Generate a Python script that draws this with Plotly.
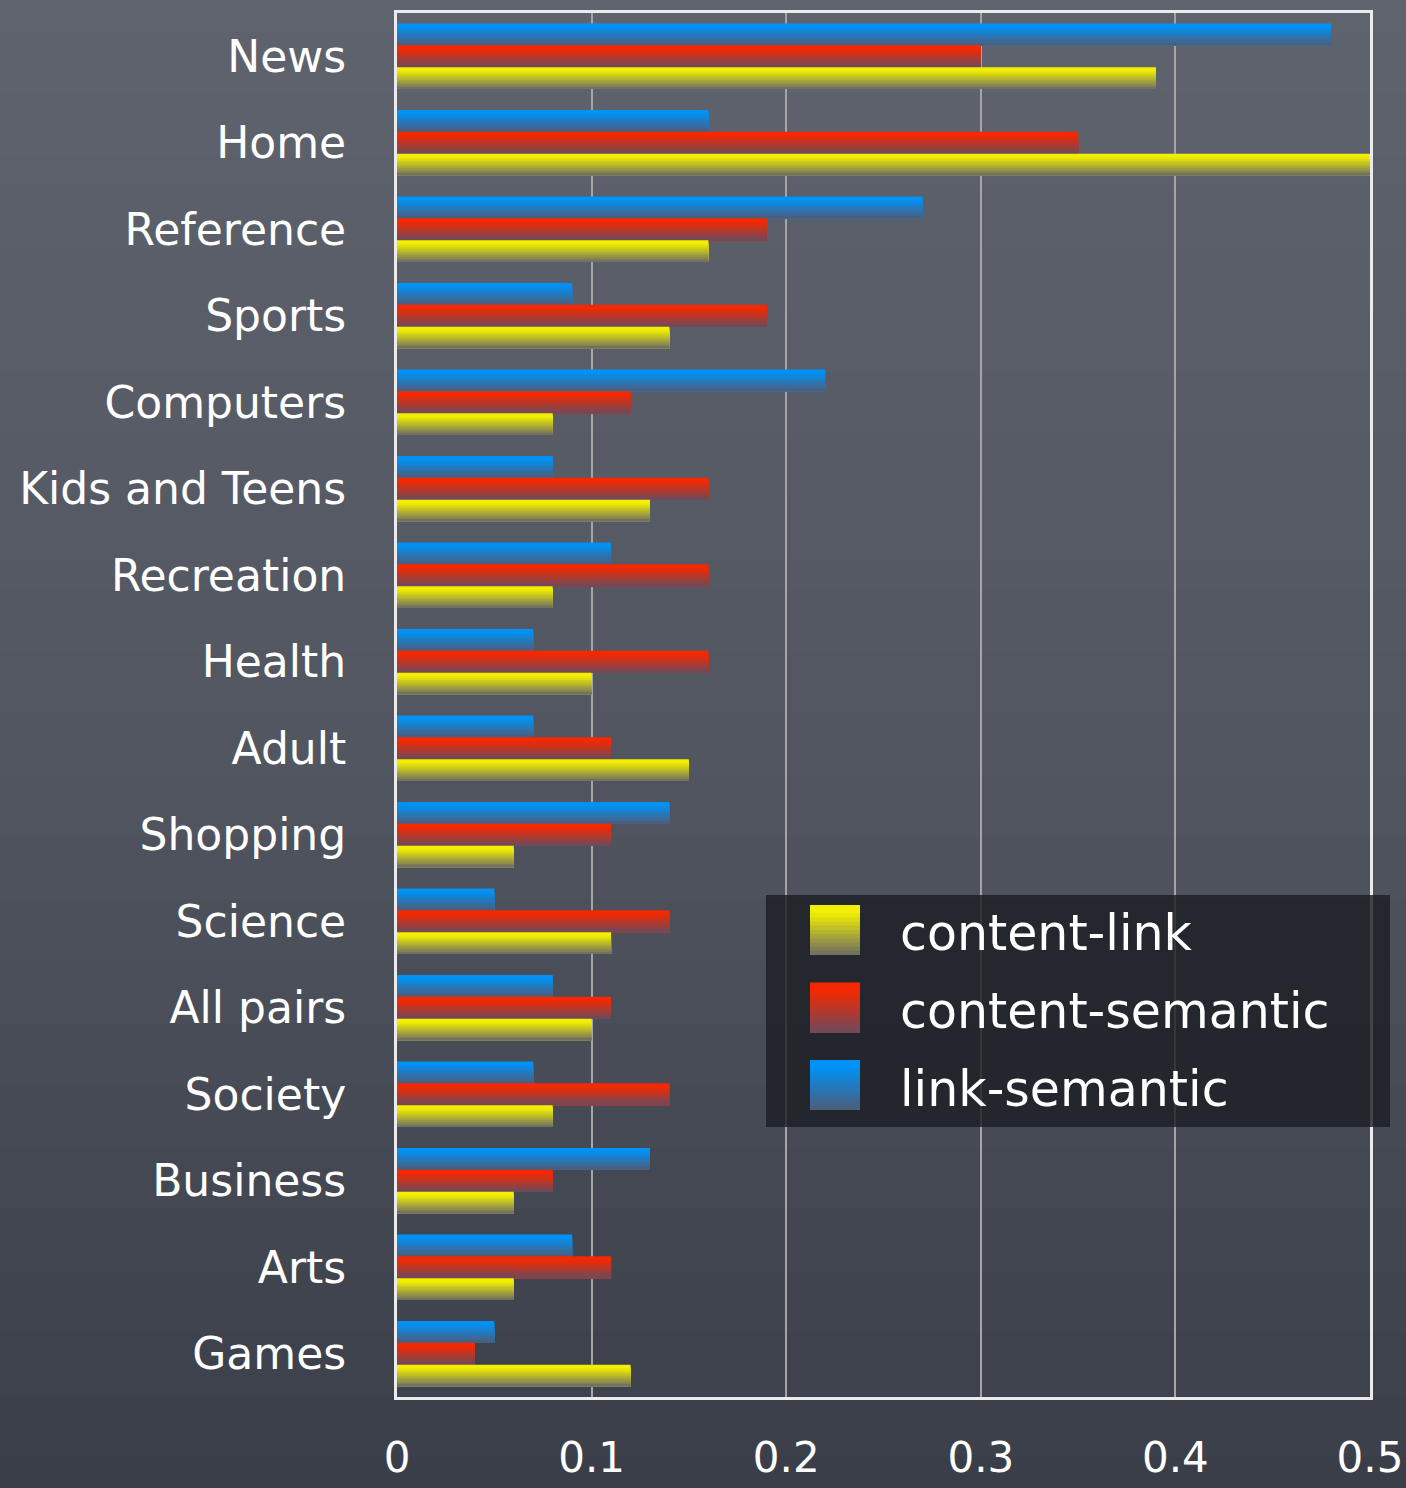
import plotly.graph_objects as go

# Category order, top to bottom
categories = ["News", "Home", "Reference", "Sports", "Computers", "Kids and Teens",
              "Recreation", "Health", "Adult", "Shopping", "Science", "All pairs",
              "Society", "Business", "Arts", "Games"]

content_link = [0.39, 0.50, 0.16, 0.14, 0.08, 0.13, 0.08, 0.10, 0.15, 0.06,
                0.11, 0.10, 0.08, 0.06, 0.06, 0.12]
content_semantic = [0.30, 0.35, 0.19, 0.19, 0.12, 0.16, 0.16, 0.16, 0.11, 0.11,
                    0.14, 0.11, 0.14, 0.08, 0.11, 0.04]
link_semantic = [0.48, 0.16, 0.27, 0.09, 0.22, 0.08, 0.11, 0.07, 0.07, 0.14,
                 0.05, 0.08, 0.07, 0.13, 0.09, 0.05]

x_ticks = [0, 0.1, 0.2, 0.3, 0.4, 0.5]
x_tick_text = ["0", "0.1", "0.2", "0.3", "0.4", "0.5"]

# series: name, values, top colour, bottom colour (vertical gradient)
series = [
    ("link-semantic", link_semantic, (0, 146, 245), (78, 92, 122)),
    ("content-semantic", content_semantic, (245, 40, 0), (110, 74, 92)),
    ("content-link", content_link, (242, 240, 0), (108, 108, 100)),
]

FONT = "DejaVu Sans"
N_STRIPS = 12
GROUP = 0.76
BAR_W = GROUP / 3


def mix(c1, c2, t):
    # keep the top part saturated, then fade towards the bottom colour
    t = max(0.0, (t - 0.15) / 0.85)
    return "rgb(%d,%d,%d)" % tuple(round(a + (b - a) * t) for a, b in zip(c1, c2))


fig = go.Figure()

# each bar is layered from the top down: every layer starts a little lower and
# runs to the bar's bottom edge, giving a top-to-bottom colour gradient
for si, (name, vals, top, bot) in enumerate(series):
    start = -GROUP / 2 + si * BAR_W
    for k in range(N_STRIPS):
        step = BAR_W / N_STRIPS
        fig.add_trace(go.Bar(
            x=vals, y=categories, orientation="h",
            width=BAR_W - k * step,
            offset=start + k * step,
            marker=dict(color=mix(top, bot, (k + 0.5) / N_STRIPS), line=dict(width=0)),
            showlegend=False, hoverinfo="skip" if k else "x+y", name=name,
        ))

shapes = []

# pixel geometry of the plot area
W, H = 1406, 1488
PL, PR, PT, PB = 397, 1370, 13, 1397


def px_x(p):
    return (p - PL) / (PR - PL)


def px_y(p):
    return (PB - p) / (PB - PT)


# chalkboard background: vertical gradient behind everything
bg_top, bg_mid, bg_bot = (95, 99, 110), (82, 86, 97), (58, 62, 72)
n_bg = 48
for i in range(n_bg):
    p0, p1 = i * H / n_bg, (i + 1) * H / n_bg
    t = (i + 0.5) / n_bg
    if t < 0.5:
        c = tuple(round(a + (b - a) * t / 0.5) for a, b in zip(bg_top, bg_mid))
    else:
        c = tuple(round(a + (b - a) * (t - 0.5) / 0.5) for a, b in zip(bg_mid, bg_bot))
    shapes.append(dict(type="rect", xref="paper", yref="paper", layer="below",
                       x0=px_x(-20), x1=px_x(W + 20),
                       y0=px_y(H + 20 if i == n_bg - 1 else p1 + 1),
                       y1=px_y(-20 if i == 0 else p0),
                       fillcolor="rgb(%d,%d,%d)" % c, line=dict(width=0)))

# legend panel
shapes.append(dict(type="rect", xref="paper", yref="paper", layer="above",
                   x0=px_x(766), x1=px_x(1390), y0=px_y(1127), y1=px_y(895),
                   fillcolor="rgba(28,30,36,0.82)", line=dict(width=0)))

annotations = []
legend_items = [series[2], series[1], series[0]]
for i, (name, vals, top, bot) in enumerate(legend_items):
    y_top = 905 + i * 77.5
    sw = 50
    for k in range(N_STRIPS):
        shapes.append(dict(type="rect", xref="paper", yref="paper", layer="above",
                           x0=px_x(810), x1=px_x(860),
                           y0=px_y(y_top + sw),
                           y1=px_y(y_top + k * sw / N_STRIPS),
                           fillcolor=mix(top, bot, (k + 0.5) / N_STRIPS),
                           line=dict(width=0)))
    annotations.append(dict(xref="paper", yref="paper", x=px_x(898), y=px_y(y_top + 29),
                            xanchor="left", yanchor="middle", showarrow=False,
                            text=name, font=dict(family=FONT, size=49, color="white")))

fig.update_layout(
    width=W, height=H,
    margin=dict(l=PL, r=W - PR, t=PT, b=H - PB),
    paper_bgcolor="rgb(74,78,89)",
    plot_bgcolor="rgba(0,0,0,0)",
    barmode="overlay",
    showlegend=False,
    shapes=shapes,
    annotations=annotations,
    font=dict(family=FONT, color="white"),
    xaxis=dict(range=[0, 0.5], tickvals=x_ticks, ticktext=x_tick_text,
               automargin=False,
               showgrid=True, gridcolor="rgb(165,165,168)", gridwidth=2,
               zeroline=False, showline=True, linecolor="rgb(235,235,238)",
               linewidth=3, mirror=True, ticks="outside", ticklen=0,
               ticklabelstandoff=22, tickfont=dict(size=42, color="white")),
    yaxis=dict(type="category", categoryorder="array", categoryarray=categories,
               autorange="reversed", automargin=False,
               showgrid=False, zeroline=False,
               showline=True, linecolor="rgb(235,235,238)", linewidth=3, mirror=True,
               ticks="", ticklabelstandoff=39, tickfont=dict(size=44, color="white")),
)

fig.write_html("out.html")
